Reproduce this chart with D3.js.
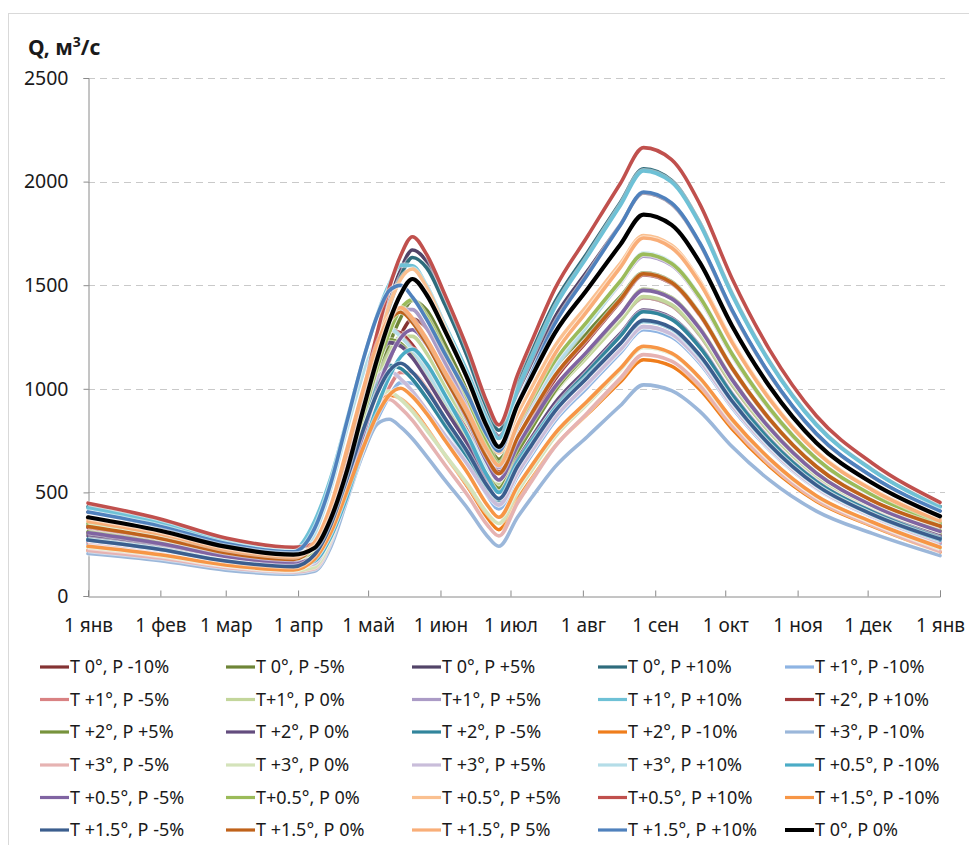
<!DOCTYPE html>
<html><head><meta charset="utf-8">
<script src="https://cdn.jsdelivr.net/npm/d3@7"></script>
<style>body{margin:0;background:#fff}svg{display:block}</style>
</head><body><svg id="c" width="969" height="845"></svg>
<script>
const monthTicks = [0,31,59,90,120,151,181,212,243,273,304,334,365];
const monthLabels = ["1 янв","1 фев","1 мар","1 апр","1 май","1 июн","1 июл","1 авг","1 сен","1 окт","1 ноя","1 дек","1 янв"];
const yTicks = [0,500,1000,1500,2000,2500];
const days = [0,31,59,88,97,104,111,118,124,129,134,139,145,153,163,171,176,184,190,200,214,228,238,250,262,276,292,312,336,365];

const q01 = [300,249,188,158,178,290,489,752,973,1134,1261,1337,1293,1133,903,693,600,751,852,1012,1171,1331,1440,1401,1260,1018,791,579,426,300];
const q02 = [340,282,213,179,200,319,530,807,1042,1212,1345,1426,1381,1214,975,757,660,822,930,1101,1272,1443,1560,1518,1365,1103,856,627,462,340];
const q03 = [405,336,253,213,238,377,623,947,1221,1419,1576,1670,1616,1420,1140,884,770,982,1123,1346,1569,1792,1945,1892,1702,1375,1068,782,576,410];
const q04 = [430,357,269,226,250,384,622,935,1200,1392,1543,1634,1585,1404,1143,905,800,1027,1179,1418,1658,1898,2062,2006,1804,1458,1132,829,610,432];
const q05 = [250,208,156,131,178,292,485,694,854,961,1030,1027,959,819,646,487,420,576,680,844,1008,1173,1285,1250,1124,908,705,517,380,250];
const q06 = [260,216,163,137,186,306,508,727,895,1007,1079,1076,1004,858,676,511,440,595,698,861,1025,1188,1300,1265,1138,919,714,523,385,258];
const q07 = [300,249,188,158,215,354,590,846,1041,1171,1255,1253,1173,1009,805,619,540,703,812,983,1155,1327,1445,1406,1264,1022,793,581,428,300];
const q08 = [345,286,216,181,244,396,654,934,1148,1291,1383,1382,1295,1121,903,705,620,804,926,1120,1314,1507,1640,1596,1435,1159,900,659,485,345];
const q09 = [425,353,266,223,360,571,854,1143,1361,1504,1597,1594,1500,1308,1070,853,760,993,1148,1393,1639,1884,2052,1997,1796,1451,1127,825,607,428];
const q10 = [330,274,206,173,217,388,680,982,1185,1285,1269,1211,1111,963,786,625,560,738,857,1045,1233,1421,1550,1508,1356,1096,851,623,459,332];
const q11 = [310,257,194,163,205,371,652,943,1139,1236,1219,1162,1064,918,743,584,520,693,808,990,1173,1355,1480,1440,1295,1046,813,595,438,315];
const q12 = [290,241,181,152,194,359,640,931,1126,1223,1206,1149,1049,902,725,565,500,658,764,931,1098,1266,1380,1343,1208,976,758,555,408,290];
const q13 = [275,228,172,144,182,332,586,849,1026,1113,1098,1046,956,823,663,519,460,624,734,907,1080,1253,1372,1335,1201,970,753,552,406,280];
const q14 = [220,183,138,116,150,281,505,736,892,969,952,901,812,680,521,378,320,468,566,722,878,1033,1140,1109,998,806,626,458,337,212];
const q15 = [205,170,125,105,119,237,464,692,831,853,815,759,675,558,417,290,240,380,474,622,770,918,1019,991,892,720,559,410,302,195];
const q16 = [220,183,138,116,131,263,516,768,923,948,907,848,757,632,480,344,290,448,553,719,885,1051,1165,1134,1019,824,640,468,345,215];
const q17 = [235,195,147,123,139,276,538,800,961,987,948,890,802,681,534,402,350,503,605,767,928,1090,1200,1168,1050,848,659,482,355,230];
const q18 = [265,220,166,139,156,306,594,881,1057,1087,1047,988,899,776,627,493,440,595,698,861,1025,1188,1300,1265,1138,919,714,523,385,262];
const q19 = [348,289,218,183,295,518,809,1077,1244,1293,1251,1188,1087,945,775,621,560,757,889,1097,1305,1513,1655,1610,1448,1170,909,665,490,350];
const q20 = [270,224,169,142,168,285,481,722,919,1056,1155,1191,1123,969,766,581,500,649,748,904,1061,1218,1325,1289,1159,937,727,533,392,270];
const q21 = [305,253,191,160,188,313,523,782,993,1141,1246,1285,1214,1052,839,645,560,725,835,1008,1182,1356,1475,1435,1291,1043,810,593,437,312];
const q22 = [350,291,219,184,215,354,586,872,1106,1269,1386,1430,1352,1176,944,732,640,822,943,1135,1327,1519,1650,1605,1444,1167,906,663,488,352];
const q23 = [370,307,231,194,229,382,641,959,1219,1400,1530,1578,1491,1293,1032,794,690,879,1005,1205,1404,1604,1740,1693,1523,1230,955,699,515,372];
const q24 = [448,372,280,235,254,385,641,985,1275,1485,1644,1734,1650,1452,1182,934,826,1067,1227,1482,1736,1990,2164,2106,1894,1530,1188,870,641,452];
const q25 = [240,199,150,126,177,306,508,719,877,969,1003,962,881,750,588,440,380,529,628,784,941,1098,1205,1172,1054,852,662,484,357,235];
const q26 = [270,224,169,142,199,344,569,805,981,1085,1123,1080,995,857,688,533,470,625,728,891,1055,1218,1330,1294,1164,940,730,535,394,275];
const q27 = [335,278,209,176,246,422,696,984,1198,1325,1371,1320,1219,1054,851,666,590,764,880,1063,1246,1430,1555,1513,1361,1099,854,625,460,338];
const q28 = [360,299,225,189,259,436,712,1002,1217,1344,1392,1341,1243,1082,884,704,630,828,959,1168,1377,1585,1728,1681,1512,1222,949,695,511,362];
const q29 = [405,336,253,213,324,543,845,1145,1355,1473,1499,1442,1336,1167,962,776,700,925,1075,1313,1550,1788,1950,1897,1706,1379,1071,784,577,410];
const q30 = [380,315,238,200,232,373,607,905,1148,1323,1457,1530,1455,1278,1038,816,720,922,1056,1269,1482,1695,1841,1791,1611,1302,1011,740,545,385];

const seriesNames = [
 "T 0°, P -10%","T 0°, P -5%","T 0°, P +5%","T 0°, P +10%","T +1°, P -10%",
 "T +1°, P -5%","T+1°, P 0%","T+1°, P +5%","T +1°, P +10%","T +2°, P +10%",
 "T +2°, P +5%","T +2°, P 0%","T +2°, P -5%","T +2°, P -10%","T +3°, P -10%",
 "T +3°, P -5%","T +3°, P 0%","T +3°, P +5%","T +3°, P +10%","T +0.5°, P -10%",
 "T +0.5°, P -5%","T+0.5°, P 0%","T +0.5°, P +5%","T+0.5°, P +10%","T +1.5°, P -10%",
 "T +1.5°, P -5%","T +1.5°, P 0%","T +1.5°, P 5%","T +1.5°, P +10%","T 0°, P 0%"];
const seriesColors = [
 "#843333","#6e8537","#524468","#2e6c7c","#8eb4e3",
 "#d98283","#c3d69b","#ab9bc6","#6ec1d6","#a13a3a",
 "#77933c","#634c7e","#31859c","#ef7d1c","#9bb7da",
 "#e6b3b2","#d4e3ba","#c9bdda","#b4dde8","#4bacc6",
 "#8064a2","#9bbb59","#fac090","#c0504d","#f79646",
 "#3b5e8e","#c0621a","#f9ae78","#4f81bd","#000000"];
const seriesValues = [q01,q02,q03,q04,q05,q06,q07,q08,q09,q10,q11,q12,q13,q14,q15,q16,q17,q18,q19,q20,q21,q22,q23,q24,q25,q26,q27,q28,q29,q30];

const FONT = "'Noto Sans', 'DejaVu Sans', sans-serif";
const svg = d3.select("#c");

svg.append("rect").attr("x",8.5).attr("y",13.5).attr("width",980).attr("height",850)
  .attr("fill","#fff").attr("stroke","#d9d9d9");

const x = d3.scaleLinear().domain([0,365]).range([88,940]);
const y = d3.scaleLinear().domain([0,2500]).range([596,78]);

// gridlines
svg.append("g").selectAll("line").data(yTicks.filter(v=>v>0)).join("line")
  .attr("x1",88).attr("x2",945)
  .attr("y1",d=>Math.round(y(d))+0.5).attr("y2",d=>Math.round(y(d))+0.5)
  .attr("stroke","#c9c9c9").attr("stroke-width",1).attr("stroke-dasharray","7,5");

// y axis
const ya = svg.append("g").attr("transform","translate(88.5,0)")
  .call(d3.axisLeft(y).tickValues(yTicks).tickSize(5).tickPadding(15).tickFormat(d3.format("d")));
ya.select(".domain").attr("stroke","#8a8a8a");
ya.selectAll(".tick line").attr("stroke","#8a8a8a");
ya.selectAll("text").attr("font-family",FONT).attr("font-size",19.5).attr("fill","#1a1a1a");

// x axis
const xa = svg.append("g").attr("transform","translate(0,596.5)")
  .call(d3.axisBottom(x).tickValues(monthTicks).tickSize(-6).tickPadding(22)
    .tickFormat((d,i)=>monthLabels[i]));
xa.select(".domain").attr("stroke","#8a8a8a");
xa.selectAll(".tick line").attr("stroke","#8a8a8a");
xa.selectAll("text").attr("font-family",FONT).attr("font-size",19).attr("fill","#1a1a1a");

// title
const t = svg.append("text").attr("x",28).attr("y",55).attr("font-family",FONT)
  .attr("font-size",21).attr("font-weight","bold").attr("fill","#1a1a1a");
t.append("tspan").text("Q, м");
t.append("tspan").attr("dy",-8).attr("font-size",14).text("3");
t.append("tspan").attr("dy",8).text("/с");

// lines
const line = d3.line().x((d,i)=>x(days[i])).y(d=>y(d)).curve(d3.curveMonotoneX);
const lg = svg.append("g");
seriesValues.forEach((vals,i)=>{
  const isBlack = i===29;
  lg.append("path").attr("d",line(vals)).attr("fill","none")
    .attr("stroke","#ffffff").attr("stroke-opacity",0.5)
    .attr("stroke-width",isBlack?6.5:5.6).attr("stroke-linejoin","round");
  lg.append("path").attr("d",line(vals)).attr("fill","none")
    .attr("stroke",seriesColors[i]).attr("stroke-width",isBlack?4.2:3.6)
    .attr("stroke-linejoin","round").attr("stroke-linecap","round");
});

// legend
const colX = [70,256,442,628,815];
const rowY = [667,699.5,732,765,797.5,830];
const leg = svg.append("g");
seriesNames.forEach((name,i)=>{
  const c = i%5, r = Math.floor(i/5);
  const g = leg.append("g").attr("transform",`translate(${colX[c]},${rowY[r]})`);
  g.append("line").attr("x1",-30).attr("x2",-1).attr("y1",0).attr("y2",0)
    .attr("stroke",seriesColors[i]).attr("stroke-width",i===29?4:3.2);
  g.append("text").attr("x",0).attr("y",0).attr("dy","0.35em")
    .attr("font-family",FONT).attr("font-size",18).attr("fill","#1a1a1a").text(name);
});
</script>
</body></html>
